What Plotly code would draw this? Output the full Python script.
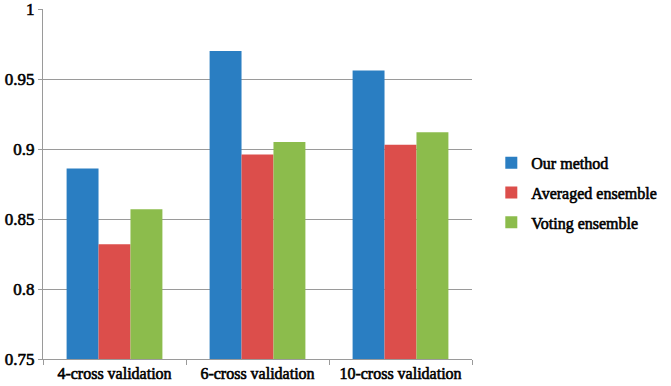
import plotly.graph_objects as go

categories = ["4-cross validation", "6-cross validation", "10-cross validation"]
our_method = [0.886, 0.970, 0.956]
averaged_ensemble = [0.832, 0.896, 0.903]
voting_ensemble = [0.857, 0.905, 0.912]
series_names = ["Our method", "Averaged ensemble", "Voting ensemble"]
y_ticks = [0.75, 0.8, 0.85, 0.9, 0.95, 1.0]
y_tick_labels = ["0.75", "0.8", "0.85", "0.9", "0.95", "1"]
colors = ["#2A7EC2", "#DC4E4B", "#8CBC4C"]

fig = go.Figure()
for i, (name, vals) in enumerate(zip(series_names, [our_method, averaged_ensemble, voting_ensemble])):
    fig.add_trace(go.Bar(x=categories, y=vals, name=name,
                         marker=dict(color=colors[i], line=dict(width=0)), legendgroup=name))

ff = "Liberation Serif"
fig.update_layout(
    width=671, height=386,
    margin=dict(l=43, r=174, t=9, b=27),
    plot_bgcolor="white", paper_bgcolor="white",
    barmode="group", bargap=0.33, bargroupgap=0,
    font=dict(family=ff, size=16, color="black"),
    legend=dict(x=1.045, xanchor="left", y=0.475, yanchor="middle",
                font=dict(family=ff, size=16, color="black"),
                tracegroupgap=6, itemwidth=30),
    showlegend=True,
)
fig.update_xaxes(showline=True, linecolor="#9A9A9A", linewidth=1, ticks="outside", tickson="boundaries",
                 ticklen=5, tickcolor="#9A9A9A", tickfont=dict(family=ff, size=16), tickangle=0,
                 showgrid=False, automargin=False, ticklabeloverflow="allow")
fig.update_yaxes(range=[0.75, 1.00001], showline=True, linecolor="#9A9A9A", linewidth=1,
                 tickmode="array", tickvals=y_ticks, ticktext=y_tick_labels,
                 ticks="outside", ticklen=4, tickcolor="#9A9A9A", showgrid=True, gridcolor="#9A9A9A",
                 gridwidth=1, tickfont=dict(family=ff, size=17), zeroline=False,
                 automargin=False, ticklabeloverflow="allow")
css = (".xtick text, .ytick text, .legendtext {stroke: #000; stroke-width: 0.6px;}")
post = ("document.body.style.margin='0';"
        "var s=document.createElement('style');s.textContent='" + css + "';document.head.appendChild(s);")
fig.write_html("out.html", config={"displayModeBar": False}, post_script=post)
